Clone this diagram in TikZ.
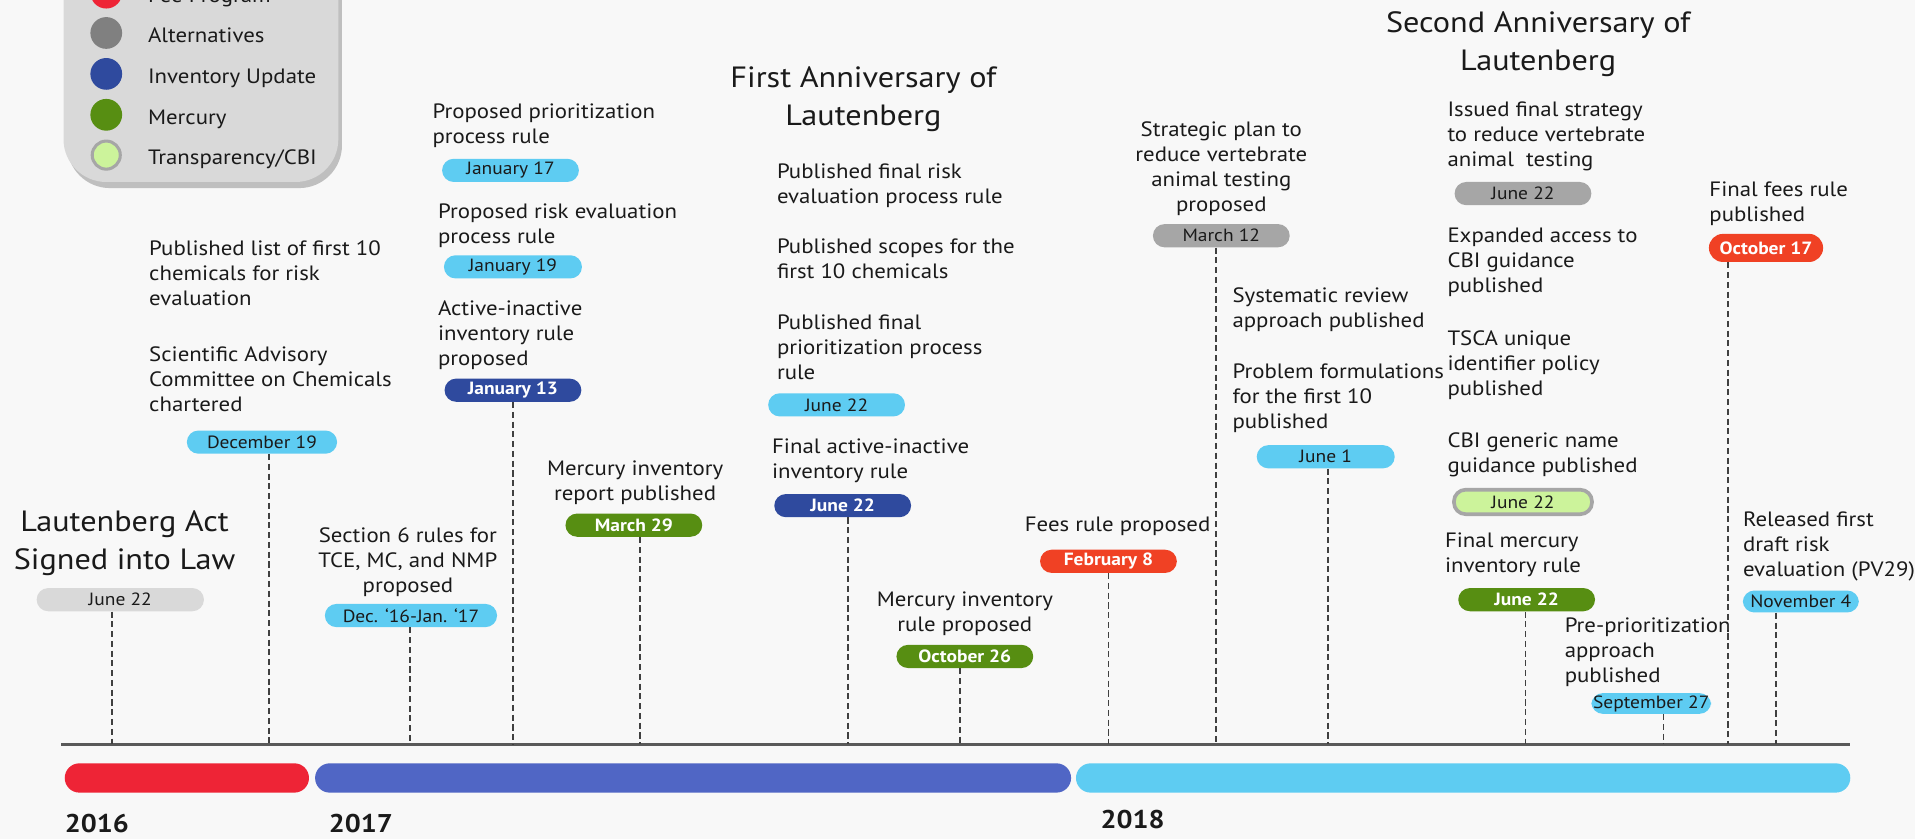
\documentclass[tikz,border=0pt]{standalone}
\usepackage{fontspec}
\setmainfont{PT Sans}[FakeStretch=1.1]
\usetikzlibrary{calc}

\definecolor{bgcol}{HTML}{F8F8F8}
\definecolor{txtcol}{HTML}{1A1A1A}
\definecolor{legbg}{HTML}{D9D9D9}
\definecolor{feered}{HTML}{EE2436}
\definecolor{feepill}{HTML}{F04124}
\definecolor{altgray}{HTML}{808080}
\definecolor{altpill}{HTML}{A6A6A6}
\definecolor{palegray}{HTML}{D9D9D9}
\definecolor{invblue}{HTML}{2F4A9E}
\definecolor{barblue}{HTML}{5066C5}
\definecolor{mercgreen}{HTML}{578E12}
\definecolor{cbigreen}{HTML}{CCF39B}
\definecolor{skyblue}{HTML}{5ECCF2}
\definecolor{axiscol}{HTML}{595959}
\definecolor{tickcol}{HTML}{404040}

\tikzset{
  txt/.style={anchor=north west, align=left, inner sep=0pt, text=txtcol, font=\fontsize{17}{20.5}\selectfont},
  ctxt/.style={txt, anchor=north, align=center},
  head/.style={anchor=north, align=center, inner sep=0pt, text=txtcol, font=\fontsize{24}{31}\selectfont},
  pill/.style={rectangle, rounded corners=9.5pt, minimum width=112pt, minimum height=19pt, inner sep=0pt, text=txtcol, font=\fontsize{14.5}{14.5}\selectfont},
  skypill/.style={pill, fill=skyblue},
  darkpill/.style={pill, text=white, font=\fontsize{14.5}{14.5}\selectfont\bfseries},
  tick/.style={draw=tickcol, line width=1.5pt, dash pattern=on 5pt off 3pt},
  dot/.style={circle, minimum size=26pt, inner sep=0pt},
  year/.style={anchor=base west, inner sep=0pt, text=txtcol, font=\fontsize{21}{21}\selectfont\bfseries}
}

\begin{document}
\begin{tikzpicture}[x=1pt,y=-1pt]
\useasboundingbox (0,0) rectangle (1568,687);
\fill[bgcol] (0,0) rectangle (1568,687);

\fill[black!25, rounded corners=35pt] (55,-40) rectangle (280,154);
\fill[legbg, rounded corners=35pt] (52,-40) rectangle (277,149);
\node[dot, fill=feered] (lfee) at (87,-6) {};
\node[dot, fill=altgray] (lalt) at (87,27) {};
\node[dot, fill=invblue] (linv) at (87,60.5) {};
\node[dot, fill=mercgreen] (lmerc) at (87,94) {};
\node[dot, fill=cbigreen, draw=altpill, line width=2.5pt, minimum size=23pt] (lcbi) at (87,127) {};
\node[txt, anchor=base west] (tfee) at (121,2) {Fee Program};
\node[txt, anchor=base west] (talt) at (121,35) {Alternatives};
\node[txt, anchor=base west] (tinv) at (121,68.5) {Inventory Update};
\node[txt, anchor=base west] (tmerc) at (121,102) {Mercury};
\node[txt, anchor=base west] (tcbi) at (121,135) {Transparency/CBI};

\draw[axiscol, line width=2.5pt] (50,609.5) -- (1515,609.5);
\fill[feered, rounded corners=12pt] (53,625) rectangle (253,649);
\fill[barblue, rounded corners=12pt] (258,625) rectangle (877,649);
\fill[skyblue, rounded corners=12pt] (881,625) rectangle (1515,649);
\node[year] (y16) at (53,682) {2016};
\node[year] (y17) at (269,682) {2017};
\node[year] (y18) at (901,678) {2018};

\node[head] (law) at (102,418) {Lautenberg Act\\Signed into Law};
\node[pill, fill=palegray, minimum width=137pt] (d1) at (98.5,491) {June 22};
\coordinate (a1) at (91.5,609.5);
\draw[tick] (a1 |- d1.south) -- (a1);

\node[txt] (e2a) at (122,196.7) {Published list of first 10\\chemicals for risk\\evaluation};
\node[txt] (e2b) at (122,284) {Scientific Advisory\\Committee on Chemicals\\chartered};
\node[skypill, minimum width=123pt] (d2) at (214.5,362) {December 19};
\coordinate (a2) at (220,609.5);
\draw[tick] (a2 |- d2.south) -- (a2);

\node[ctxt] (e3) at (334,431.7) {Section 6 rules for\\TCE, MC, and NMP\\proposed};
\node[skypill, minimum width=141pt] (d3) at (336.5,504) {Dec. ‘16-Jan. ‘17};
\coordinate (a3) at (336,609.5);
\draw[tick] (a3 |- d3.south) -- (a3);

\node[txt] (e4a) at (354,84.7) {Proposed prioritization\\process rule};
\node[skypill] (d4a) at (418,139.5) {January 17};
\node[txt] (e4b) at (358.5,166.7) {Proposed risk evaluation\\process rule};
\node[skypill, minimum width=113pt] (d4b) at (420,218.5) {January 19};
\node[txt] (e4c) at (358.5,245.7) {Active-inactive\\inventory rule\\proposed};
\node[darkpill, fill=invblue] (d4c) at (420,319.5) {January 13};
\coordinate (a4) at (420,609.5);
\draw[tick] (a4 |- d4c.south) -- (a4);

\node[ctxt] (e5) at (520,376.7) {Mercury inventory\\report published};
\node[darkpill, fill=mercgreen] (d5) at (519,430) {March 29};
\coordinate (a5) at (524,609.5);
\draw[tick] (a5 |- d5.south) -- (a5);

\node[head] (first) at (707,54.5) {First Anniversary of\\Lautenberg};
\node[txt] (e6a) at (636,133.7) {Published final risk\\evaluation process rule};
\node[txt] (e6b) at (636,195.7) {Published scopes for the\\first 10 chemicals};
\node[txt] (e6c) at (636,257.3) {Published final\\prioritization process\\rule};
\node[skypill] (d6a) at (685,331.5) {June 22};
\node[txt] (e6d) at (632,358.7) {Final active-inactive\\inventory rule};
\node[darkpill, fill=invblue] (d6b) at (690,414) {June 22};
\coordinate (a6) at (694.5,609.5);
\draw[tick] (a6 |- d6b.south) -- (a6);

\node[ctxt] (e7) at (790,484.7) {Mercury inventory\\rule proposed};
\node[darkpill, fill=mercgreen] (d7) at (790,537.5) {October 26};
\coordinate (a7) at (786,609.5);
\draw[tick] (a7 |- d7.south) -- (a7);

\node[txt] (e8) at (839,423.3) {Fees rule proposed};
\node[darkpill, fill=feepill] (d8) at (907.6,459.6) {February 8};
\coordinate (a8) at (907.6,609.5);
\draw[tick] (a8 |- d8.south) -- (a8);

\node[ctxt] (e9) at (1000,99.7) {Strategic plan to\\reduce vertebrate\\animal testing\\proposed};
\node[pill, fill=altpill] (d9) at (1000,193) {March 12};
\coordinate (a9) at (995.7,609.5);
\draw[tick] (a9 |- d9.south) -- (a9);

\node[txt] (e10a) at (1009,235.7) {Systematic review\\approach published};
\node[txt] (e10b) at (1009,297.7) {Problem formulations\\for the first 10\\published};
\node[skypill, minimum width=113pt] (d10) at (1085.5,374) {June 1};
\coordinate (a10) at (1087.6,609.5);
\draw[tick] (a10 |- d10.south) -- (a10);

\node[head] (second) at (1259.5,9.5) {Second Anniversary of\\Lautenberg};
\node[txt] (e11a) at (1185,83.2) {Issued final strategy\\to reduce vertebrate\\animal\ \ testing};
\node[pill, fill=altpill] (d11a) at (1247,158.5) {June 22};
\node[txt] (e11b) at (1185,186.7) {Expanded access to\\CBI guidance\\published};
\node[txt] (e11c) at (1185,270.2) {TSCA unique\\identifier policy\\published};
\node[txt] (e11d) at (1185,353.7) {CBI generic name\\guidance published};
\node[pill, fill=cbigreen, draw=altpill, line width=3pt, minimum width=113pt, minimum height=20pt] (d11b) at (1247,411) {June 22};
\node[txt] (e11e) at (1183,435.7) {Final mercury\\inventory rule};
\node[darkpill, fill=mercgreen] (d11c) at (1250,491) {June 22};
\coordinate (a11) at (1249,609.5);
\draw[tick] (a11 |- d11c.south) -- (a11);

\node[txt] (e12) at (1281,505.7) {Pre-prioritization\\approach\\published};
\node[skypill, minimum width=98pt, minimum height=17pt] (d12) at (1352,576) {September 27};
\coordinate (a12) at (1362,609.5);
\draw[tick] (a12 |- d12.south) -- (a12);

\node[txt] (e13) at (1399.5,148.7) {Final fees rule\\published};
\node[darkpill, fill=feepill, minimum width=93.5pt, minimum height=23pt, rounded corners=11.5pt] (d13) at (1446,203) {October 17};
\coordinate (a13) at (1415,609.5);
\draw[tick] (a13 |- d13.south) -- (a13);

\node[txt] (e14) at (1427,419.2) {Released first\\draft risk\\evaluation (PV29)};
\node[skypill, minimum width=95pt, minimum height=18pt] (d14) at (1474.5,492.5) {November 4};
\coordinate (a14) at (1454,609.5);
\draw[tick] (a14 |- d14.south) -- (a14);

\end{tikzpicture}
\end{document}
